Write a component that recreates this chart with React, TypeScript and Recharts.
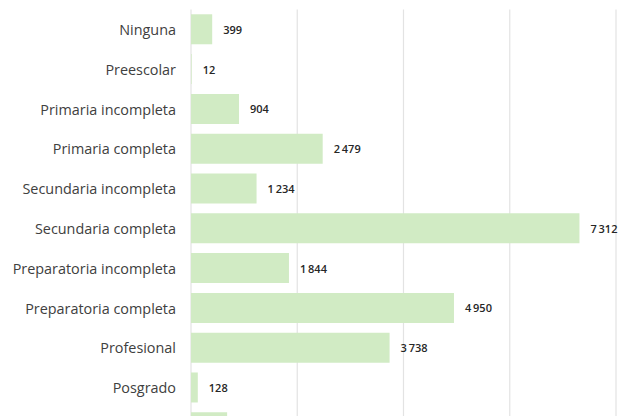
import React from "react";
import { BarChart, Bar, XAxis, YAxis, CartesianGrid, LabelList } from "recharts";

const categories = [
  "Ninguna",
  "Preescolar",
  "Primaria incompleta",
  "Primaria completa",
  "Secundaria incompleta",
  "Secundaria completa",
  "Preparatoria incompleta",
  "Preparatoria completa",
  "Profesional",
  "Posgrado",
  "No especificado",
];

const values = [399, 12, 904, 2479, 1234, 7312, 1844, 4950, 3738, 128, 680];

const xTicks = [0, 2000, 4000, 6000, 8000];

const data = categories.map((name, i) => ({ name, value: values[i] }));

const VIEW_H = 416;

const fmt = (v: any) => {
  const s = String(v);
  return s.replace(/\B(?=(\d{3})+(?!\d))/g, "\u2009");
};

const CatTick = (props: any) => {
  const { y, payload } = props;
  if (y + 8 > VIEW_H) return null;
  return (
    <text
      x={176}
      y={y}
      textAnchor="end"
      dominantBaseline="central"
      fontFamily="'Open Sans', sans-serif"
      fontSize={14.4}
      fill="#404040"
    >
      {payload.value}
    </text>
  );
};

const ValueLabel = (props: any) => {
  const { x, y, width, height, value } = props;
  const cy = y + height / 2;
  if (cy + 8 > VIEW_H) return null;
  return (
    <text
      x={x + width + 11}
      y={cy}
      dominantBaseline="central"
      fontFamily="'Open Sans', sans-serif"
      fontSize={11}
      fontWeight={600}
      fill="#262626"
    >
      {fmt(value)}
    </text>
  );
};

export default function App() {
  return (
    <div
      style={{
        position: "absolute",
        left: 0,
        top: 0,
        width: 629,
        height: 416,
        overflow: "hidden",
        background: "#ffffff",
      }}
    >
      <BarChart
        width={680}
        height={460}
        data={data}
        layout="vertical"
        margin={{ top: 9.5, right: 64, left: 0, bottom: 12.7 }}
        barCategoryGap="12%"
      >
        <CartesianGrid horizontal={false} vertical={true} stroke="#e3e3e3" strokeWidth={1.2} />
        <XAxis type="number" domain={[0, 8000]} ticks={xTicks} hide />
        <YAxis
          type="category"
          dataKey="name"
          width={191}
          axisLine={false}
          tickLine={false}
          tick={<CatTick />}
          interval={0}
        />
        <Bar dataKey="value" fill="#d1ebc4" isAnimationActive={false}>
          <LabelList dataKey="value" content={<ValueLabel />} />
        </Bar>
      </BarChart>
    </div>
  );
}
